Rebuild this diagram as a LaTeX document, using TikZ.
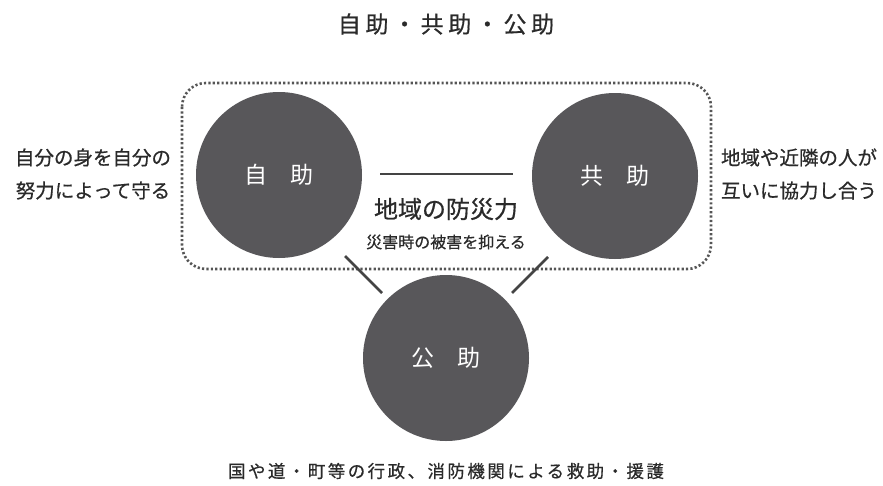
\documentclass[tikz,border=0pt]{standalone}
\usepackage{fontspec}
\setmainfont{Noto Sans CJK JP}
\newfontfamily\jpfont{Noto Sans CJK JP}
\newfontfamily\jpfontb[FakeBold=0.6]{Noto Sans CJK JP}
\definecolor{circgray}{HTML}{58575A}
\definecolor{txtgray}{HTML}{2A2A2A}
\definecolor{linegray}{HTML}{444444}
\definecolor{dotgray}{HTML}{555555}
\tikzset{
  helpcircle/.style={circle, fill=circgray, minimum size=166pt, inner sep=0pt, text=white,
    font=\jpfont\fontsize{23}{26}\selectfont},
  sidetext/.style={inner sep=0pt, text=txtgray, align=center,
    font=\jpfontb\fontsize{19.5}{33}\selectfont},
  linkline/.style={draw=linegray, line width=2.6pt},
}
\begin{document}
\begin{tikzpicture}[x=1pt,y=-1pt]
\useasboundingbox (0,0) rectangle (883,485);
% title
\node[inner sep=0pt, text=txtgray, font={\jpfontb\fontsize{23}{26}\addfontfeature{LetterSpace=20}\selectfont}] (title) at (446,24) {自助・共助・公助};
% dotted box
\draw[dotgray, line width=2.6pt, dash pattern=on 2.2pt off 2.2pt, rounded corners=24pt] (182,83) rectangle (711,269);
% circles
\node[helpcircle] (jijo) at (279,175) {自　助};
\node[helpcircle] (kyojo) at (615,176) {共　助};
\node[helpcircle] (kojo) at (446,358) {公　助};
% center line and text
\coordinate (hl) at (380,174);
\coordinate (hr) at (513,174);
\draw[linkline] (hl) -- (hr);
\node[inner sep=0pt, text=txtgray, font=\jpfontb\fontsize{24}{28}\selectfont] (bousai) at (446,209) {地域の防災力};
\node[inner sep=0pt, text=txtgray, font=\jpfontb\fontsize{16}{20}\selectfont] (higai) at (446,242) {災害時の被害を抑える};
% diagonal links
\coordinate (la) at (345,256);
\coordinate (lb) at (382,293);
\coordinate (ra) at (548,257);
\coordinate (rb) at (512,293);
\draw[linkline] (la) -- (lb);
\draw[linkline] (ra) -- (rb);
% side texts
\node[sidetext] (lefttxt) at (93,174) {自分の身を自分の\\努力によって守る};
\node[sidetext] (righttxt) at (799,174) {地域や近隣の人が\\互いに協力し合う};
% bottom text
\node[inner sep=0pt, text=txtgray, font={\jpfontb\fontsize{17.5}{20}\addfontfeature{LetterSpace=14}\selectfont}] (bottom) at (446,471) {国や道・町等の行政、消防機関による救助・援護};
\end{tikzpicture}
\end{document}
